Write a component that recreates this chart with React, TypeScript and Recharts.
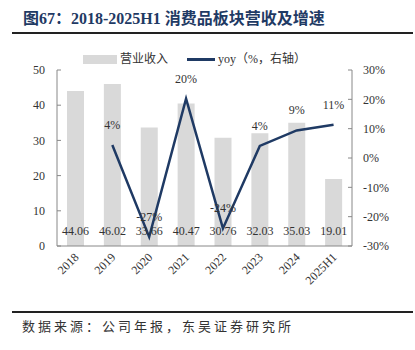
import React from 'react';
import { ComposedChart, Bar, Line, XAxis, YAxis, LabelList, Legend } from 'recharts';

const categories = ['2018', '2019', '2020', '2021', '2022', '2023', '2024', '2025H1'];
const revenue = [44.06, 46.02, 33.66, 40.47, 30.76, 32.03, 35.03, 19.01];
const yoy = [null, 4.45, -26.9, 20.2, -24.0, 4.1, 9.4, 11.3];
const yoyLabels = [null, '4%', '-27%', '20%', '-24%', '4%', '9%', '11%'];
const leftTicks = [0, 10, 20, 30, 40, 50];
const rightTicks = [-30, -20, -10, 0, 10, 20, 30];
const boundaryTicks = [0, 1, 2, 3, 4, 5, 6, 7, 8];

const data = categories.map((c, i) => ({
  name: c,
  revenue: revenue[i],
  yoy: yoy[i],
  yoyLabel: yoyLabels[i],
  idx: i + 0.5,
}));

const SERIF = "'Liberation Serif', 'Times New Roman', 'Noto Sans CJK SC', serif";
const NAVY = '#1F3A64';
const BAR = '#D9D9D9';
const TEXT = '#333333';

const XTick = (props: any) => {
  const { x, y, payload } = props;
  const ax = x + 4;
  const ay = y + 4;
  return (
    <text x={ax} y={ay} transform={`rotate(-45, ${ax}, ${ay})`} textAnchor="end" fontSize={12} fill={TEXT} fontFamily={SERIF}>
      {payload.value}
    </text>
  );
};

const BarValueLabel = (props: any) => {
  const { x, y, width, height, value } = props;
  return (
    <text x={x + width / 2} y={y + height - 11} textAnchor="middle" fontSize={12} fill={TEXT} fontFamily={SERIF}>
      {value}
    </text>
  );
};

const LineValueLabel = (props: any) => {
  const { x, y, value } = props;
  if (value == null) return null;
  return (
    <text x={x} y={y - 16} textAnchor="middle" fontSize={12} fill={TEXT} fontFamily={SERIF}>
      {value}
    </text>
  );
};

const LegendContent = () => (
  <div style={{ position: 'relative', height: 0, width: 415, fontFamily: SERIF, fontSize: 12, color: TEXT }}>
    <div style={{ position: 'absolute', left: 83, top: 55, width: 34, height: 9, background: BAR }} />
    <div style={{ position: 'absolute', left: 120, top: 51, lineHeight: '16px', whiteSpace: 'nowrap' }}>营业收入</div>
    <div style={{ position: 'absolute', left: 187, top: 58, width: 28, height: 3, background: NAVY }} />
    <div style={{ position: 'absolute', left: 218, top: 51, lineHeight: '16px', whiteSpace: 'nowrap' }}>yoy（%，右轴）</div>
  </div>
);

const EmptyTick = () => <g />;

export default function App() {
  return (
    <div style={{ position: 'absolute', left: 0, top: 0, width: 415, height: 350, background: '#fff' }}>
      <div
        style={{
          position: 'absolute',
          left: 23,
          top: 10,
          fontFamily: SERIF,
          fontWeight: 'bold',
          fontSize: 16,
          lineHeight: '18px',
          color: NAVY,
          whiteSpace: 'nowrap',
        }}
      >
        图67：2018-2025H1 消费品板块营收及增速
      </div>
      <div style={{ position: 'absolute', left: 12, top: 32, width: 401, height: 2, background: '#222' }} />
      <div style={{ position: 'absolute', left: 0, top: 0 }}>
        <ComposedChart width={415} height={350} data={data} margin={{ top: 70, right: 18, bottom: 64, left: 12 }}>
          <XAxis
            xAxisId="grid"
            type="number"
            dataKey="idx"
            domain={[0, 8]}
            ticks={boundaryTicks}
            allowDataOverflow
            height={0}
            axisLine={false}
            tick={<EmptyTick />}
            tickSize={-4}
            tickLine={{ stroke: '#888' }}
          />
          <XAxis
            dataKey="name"
            xAxisId="cat"
            height={40}
            axisLine={{ stroke: '#888', strokeWidth: 1 }}
            tickLine={false}
            tick={<XTick />}
            interval={0}
          />
          <YAxis
            yAxisId="left"
            orientation="left"
            width={45}
            domain={[0, 50]}
            ticks={leftTicks}
            axisLine={{ stroke: '#888' }}
            tickLine={{ stroke: '#888' }}
            tickSize={-4}
            tickMargin={16}
            tick={{ fontSize: 12, fill: TEXT, fontFamily: SERIF }}
          />
          <YAxis
            yAxisId="right"
            orientation="right"
            width={45}
            domain={[-30, 30]}
            ticks={rightTicks}
            tickFormatter={(v: number) => `${v}%`}
            axisLine={{ stroke: '#888' }}
            tickLine={{ stroke: '#888' }}
            tickSize={-4}
            tickMargin={15}
            tick={{ fontSize: 12, fill: TEXT, fontFamily: SERIF, textAnchor: 'start' }}
          />
          <Legend verticalAlign="top" wrapperStyle={{ top: 0, left: 0, width: 415, height: 0 }} content={<LegendContent />} />
          <Bar dataKey="revenue" xAxisId="cat" yAxisId="left" fill={BAR} barSize={17} isAnimationActive={false}>
            <LabelList dataKey="revenue" content={<BarValueLabel />} />
          </Bar>
          <Line
            dataKey="yoy"
            xAxisId="cat"
            yAxisId="right"
            stroke={NAVY}
            strokeWidth={2.5}
            dot={false}
            activeDot={false}
            isAnimationActive={false}
          >
            <LabelList dataKey="yoyLabel" content={<LineValueLabel />} />
          </Line>
        </ComposedChart>
      </div>
      <div style={{ position: 'absolute', left: 12, top: 311, width: 401, height: 2, background: '#222' }} />
      <div
        style={{
          position: 'absolute',
          left: 22,
          top: 319,
          fontFamily: SERIF,
          fontSize: 13,
          lineHeight: '16px',
          letterSpacing: 3,
          color: TEXT,
          whiteSpace: 'nowrap',
        }}
      >
        数据来源：公司年报，东吴证券研究所
      </div>
    </div>
  );
}
